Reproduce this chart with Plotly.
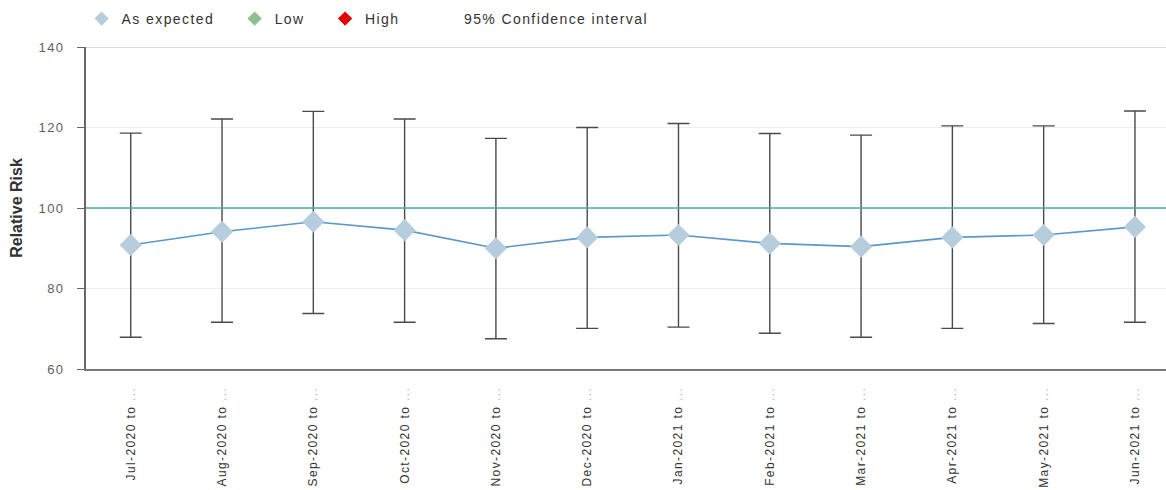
import plotly.graph_objects as go

# Rolling 12-month periods and their relative risk with 95% confidence limits
periods = ["Jul-2020", "Aug-2020", "Sep-2020", "Oct-2020", "Nov-2020", "Dec-2020",
           "Jan-2021", "Feb-2021", "Mar-2021", "Apr-2021", "May-2021", "Jun-2021"]
relative_risk = [90.8, 94.1, 96.6, 94.5, 90.0, 92.7, 93.3, 91.2, 90.4, 92.7, 93.3, 95.3]
ci_upper = [118.6, 122.1, 124.0, 122.1, 117.3, 120.0, 121.0, 118.5, 118.1, 120.4, 120.4, 124.1]
ci_lower = [67.9, 71.6, 73.8, 71.6, 67.5, 70.1, 70.4, 68.9, 67.9, 70.1, 71.3, 71.6]

baseline = 100
y_min, y_max = 60, 140
y_ticks = [60, 80, 100, 120, 140]

SPACED = "<span style='letter-spacing:1.4px'>{}</span>"

tick_text = [SPACED.format(f"{p} to ") + "<span style='color:#e8a0a0;letter-spacing:1.4px'>...</span>"
             for p in periods]
x_idx = list(range(len(periods)))

fig = go.Figure()

# Relative risk line with confidence interval error bars
fig.add_trace(go.Scatter(
    x=x_idx, y=relative_risk,
    mode="lines+markers",
    line=dict(color="#5b97c9", width=1.6),
    marker=dict(symbol="diamond", size=17, color="#b5cddd",
                line=dict(width=0)),
    error_y=dict(type="data", symmetric=False,
                 array=[u - v for u, v in zip(ci_upper, relative_risk)],
                 arrayminus=[v - l for v, l in zip(relative_risk, ci_lower)],
                 color="#4a4a4a", thickness=1.4, width=11),
    showlegend=False,
    hoverinfo="skip",
))

# Legend entries
legend_items = [("As expected", "#b5cddd"), ("Low", "#8fbf8f"), ("High", "#e00000"),
                ("95% Confidence interval", "rgba(0,0,0,0)")]
legend_pad = [4, 4, 5, 0]
for (name, col), pad in zip(legend_items, legend_pad):
    fig.add_trace(go.Scatter(
        x=[None], y=[None], mode="markers",
        name=SPACED.format(name) + "&nbsp;" * pad,
        marker=dict(symbol="diamond", size=11, color=col, line=dict(width=0)),
    ))

# Reference line at relative risk 100 and top border line
fig.add_hline(y=baseline, line=dict(color="#4fa9a6", width=1.5), layer="above")
fig.add_hline(y=y_max, line=dict(color="#c6d3e6", width=1.5), layer="above")

fig.update_layout(
    width=1166, height=490,
    margin=dict(l=86, r=0, t=47, b=121),
    paper_bgcolor="white", plot_bgcolor="white",
    font=dict(family="Liberation Sans, Arial, sans-serif", color="#333333"),
    showlegend=True,
    legend=dict(orientation="h", xref="container", yref="container",
                x=0.070, xanchor="left", y=0.994, yanchor="top",
                font=dict(size=14, color="#333333"),
                bgcolor="rgba(0,0,0,0)", itemclick=False),
    xaxis=dict(
        tickmode="array", tickvals=x_idx, ticktext=tick_text,
        tickangle=-90, tickfont=dict(size=12, color="#333333"),
        range=[-0.49, 11.34],
        showgrid=False, zeroline=False,
        showline=True, linecolor="#777777", linewidth=2,
        ticks="outside", ticklen=0, ticklabelstandoff=11,
        automargin=False,
    ),
    yaxis=dict(
        range=[y_min, y_max],
        tickmode="array", tickvals=y_ticks,
        ticktext=[SPACED.format(v) for v in y_ticks],
        showgrid=True, gridcolor="#eeeeee", gridwidth=1,
        zeroline=False,
        showline=True, linecolor="#666666", linewidth=2,
        ticks="outside", ticklen=7, tickcolor="#666666", tickwidth=1,
        tickfont=dict(size=13, color="#606060"),
        ticklabelstandoff=10,
        title=dict(text="<b>Relative Risk</b>", font=dict(size=16, color="#333333"),
                   standoff=12),
        automargin=False,
    ),
)

fig.write_html("out.html")
